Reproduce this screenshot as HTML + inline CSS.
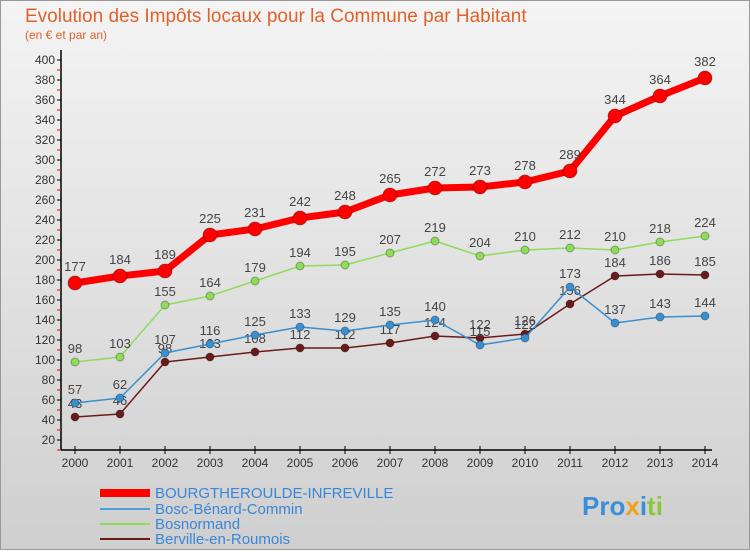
<!DOCTYPE html>
<html><head><meta charset="utf-8"><style>
body{margin:0;width:750px;height:550px;overflow:hidden;font-family:"Liberation Sans","DejaVu Sans",sans-serif}
</style></head><body>
<svg width="750" height="550" xmlns="http://www.w3.org/2000/svg" id="c" font-family="Liberation Sans, DejaVu Sans, sans-serif">
<defs><linearGradient id="bg" x1="0" y1="0" x2="0" y2="1"><stop offset="0" stop-color="#f4f4f4"/><stop offset="1" stop-color="#cfcfcf"/></linearGradient></defs>
<rect x="0.5" y="0.5" width="749" height="549" fill="url(#bg)" stroke="#999"/>
<text x="25" y="22" font-size="19" fill="#e0622a">Evolution des Impôts locaux pour la Commune par Habitant</text>
<text x="25" y="39" font-size="12" fill="#e0622a">(en € et par an)</text>
<g id="axes"></g><g id="series"></g>
<g font-size="15" fill="#3a86d8">
<line x1="100" y1="493" x2="150" y2="493" stroke="#f00" stroke-width="8"/><text x="155" y="498">BOURGTHEROULDE-INFREVILLE</text>
<line x1="100" y1="509" x2="150" y2="509" stroke="#4a9fd6" stroke-width="2"/><text x="155" y="514">Bosc-Bénard-Commin</text>
<line x1="100" y1="524" x2="150" y2="524" stroke="#8fdc5a" stroke-width="2"/><text x="155" y="529">Bosnormand</text>
<line x1="100" y1="539" x2="150" y2="539" stroke="#6b1a1a" stroke-width="2"/><text x="155" y="544">Berville-en-Roumois</text>
</g>
<text x="582" y="515" font-size="26" font-weight="bold"><tspan fill="#3a8fd8">Pro</tspan><tspan fill="#f0a020">x</tspan><tspan fill="#3a8fd8">i</tspan><tspan fill="#8ac83a">ti</tspan></text>
</svg>
<script>
const years=[2000,2001,2002,2003,2004,2005,2006,2007,2008,2009,2010,2011,2012,2013,2014];
const bourg=[177,184,189,225,231,242,248,265,272,273,278,289,344,364,382];
const bosc=[57,62,107,116,125,133,129,135,140,115,122,173,137,143,144];
const bosn=[98,103,155,164,179,194,195,207,219,204,210,212,210,218,224];
const berv=[43,46,98,103,108,112,112,117,124,122,126,156,184,186,185];
const yTicks=[20,40,60,80,100,120,140,160,180,200,220,240,260,280,300,320,340,360,380,400];
const NS='http://www.w3.org/2000/svg';
const X=i=>75+i*45, Y=v=>460-v;
function mk(t,a,p){const e=document.createElementNS(NS,t);for(const k in a)e.setAttribute(k,a[k]);p.appendChild(e);return e;}
const ax=document.getElementById('axes'), se=document.getElementById('series');
mk('line',{x1:61,y1:50,x2:61,y2:450,stroke:'#000','stroke-width':1.5},ax);
mk('line',{x1:61,y1:450,x2:712,y2:450,stroke:'#000','stroke-width':1.5},ax);
yTicks.forEach(v=>{
  mk('line',{x1:57,y1:Y(v),x2:61,y2:Y(v),stroke:'#000'},ax);
  mk('line',{x1:57,y1:Y(v)+10,x2:61,y2:Y(v)+10,stroke:'#f00'},ax);
  const t=mk('text',{x:55,y:Y(v)+4,'font-size':12,'text-anchor':'end',fill:'#333'},ax);t.textContent=v;
  
  
});
years.forEach((y,i)=>{
  mk('line',{x1:X(i),y1:446,x2:X(i),y2:454,stroke:'#000'},ax);
  const t=mk('text',{x:X(i),y:467,'font-size':12,'text-anchor':'middle',fill:'#333'},ax);t.textContent=y;
  
  
});
function draw(data,name,col,w,r,fs){
  const g=mk('g',{},se);
  
  
  mk('polyline',{points:data.map((v,i)=>X(i)+','+Y(v)).join(' '),fill:'none',stroke:col,'stroke-width':w,'stroke-linejoin':'round'},g);
  data.forEach((v,i)=>{
    const c=mk('circle',{cx:X(i),cy:Y(v),r:r,fill:col,stroke:'rgba(0,0,0,0.3)'},g);
    
    
    const t=mk('text',{x:X(i),y:Y(v)-r-5,'font-size':fs,'text-anchor':'middle',fill:'#444'},g);t.textContent=v;
    
    
  });
}
draw(berv,'berville-series','#6b1a1a',1.5,4,13);
draw(bosc,'bosc-series','#3a8fd0',1.5,4,13);
draw(bosn,'bosnormand-series','#8fdc5a',1.5,4,13);
draw(bourg,'bourgtheroulde-series','#f00',7,7,13);
</script>
</body></html>
